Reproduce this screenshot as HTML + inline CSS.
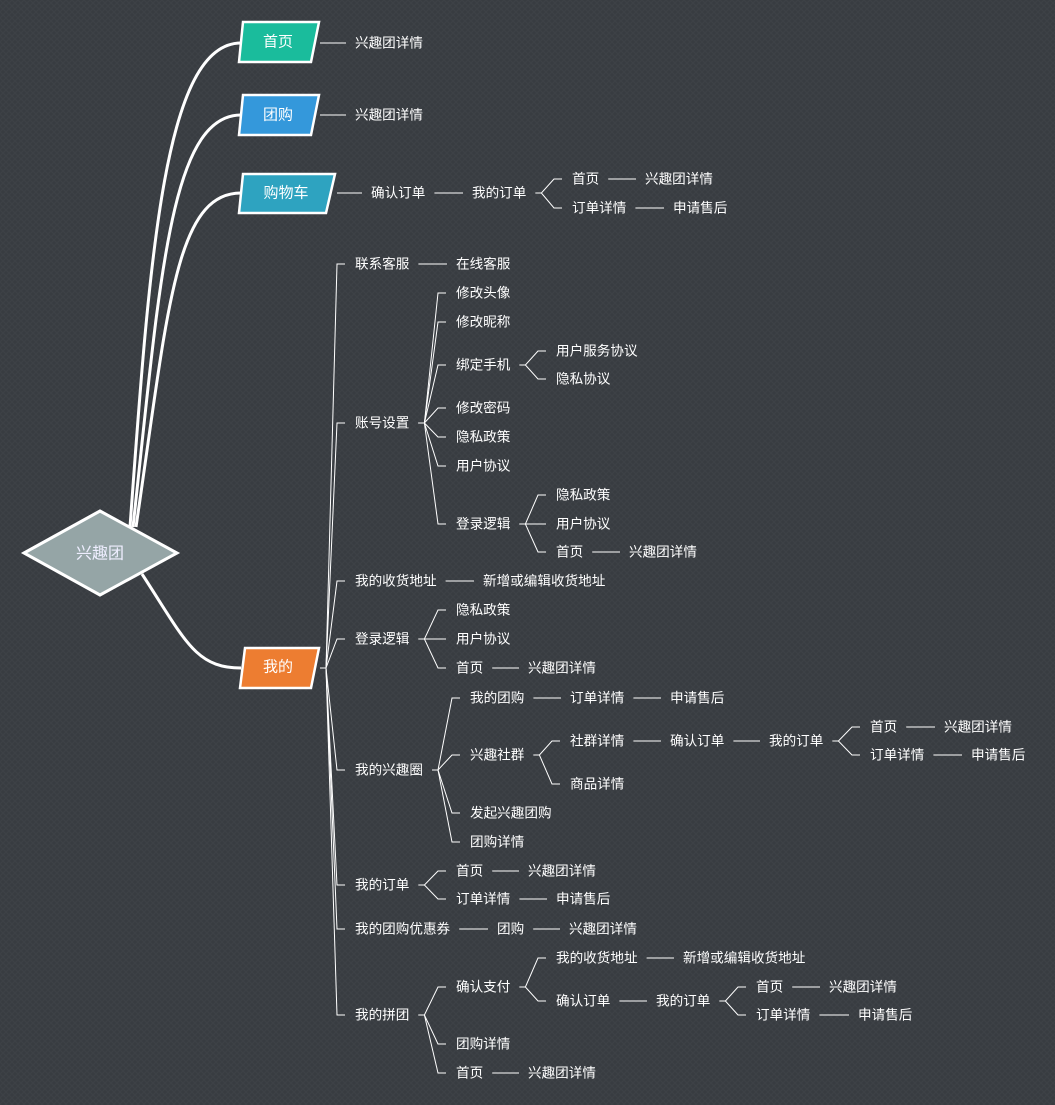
<!DOCTYPE html>
<html><head><meta charset="utf-8"><style>
html,body{margin:0;padding:0;background:#383c41;}
svg{display:block;}
text{font-family:"Liberation Sans","Noto Sans CJK SC",sans-serif;font-size:13.6px;fill:#fff;dominant-baseline:central;}
</style></head><body>
<svg id="s" width="1055" height="1105" viewBox="0 0 1055 1105" xmlns="http://www.w3.org/2000/svg">
<defs><pattern id="p" width="6" height="6" patternUnits="userSpaceOnUse"><rect width="6" height="6" fill="#383c41"/><path d="M0 0L6 6M6 0L0 6" stroke="#3d4146" stroke-width="1"/></pattern></defs>
<rect width="1055" height="1105" fill="url(#p)"/>
<g fill="none" stroke="#fff" stroke-width="3">
<path d="M130 527 C150 250 165 43 241 43"/>
<path d="M133 527 C160 280 170 115 241 115"/>
<path d="M136 527 C168 310 175 193 241 193"/>
<path d="M142 574 C185 640 195 668 241 668"/>
</g>
<polygon points="24,553 100,511 177,553 100,595" fill="#95a5a6" stroke="#fff" stroke-width="3"/>
<text x="100" y="554" text-anchor="middle" style="font-size:16px;fill:#eef">兴趣团</text>
<polygon points="243,22 319,22 311,62 239,62" fill="#1abc9c" stroke="#fff" stroke-width="2.5"/>
<text x="278" y="42" text-anchor="middle" style="font-size:15px">首页</text>
<polygon points="243,95 319,95 311,135 239,135" fill="#3498db" stroke="#fff" stroke-width="2.5"/>
<text x="278" y="115" text-anchor="middle" style="font-size:15px">团购</text>
<polygon points="243,174 335,174 326,213 239,213" fill="#2ea3c0" stroke="#fff" stroke-width="2.5"/>
<text x="286" y="193" text-anchor="middle" style="font-size:15px">购物车</text>
<polygon points="245,648 319,648 311,688 240,688" fill="#ed7d31" stroke="#fff" stroke-width="2.5"/>
<text x="278" y="667" text-anchor="middle" style="font-size:15px">我的</text>
<g id="lines" fill="none" stroke="#fff" stroke-width="1"></g>
<g id="txt"></g>
</svg>
<script>
var W=13.6;
function N(t,x,y,c){return {t:t,x:x,y:y,c:c||[]};}
var roots=[
 {pe:311,y:43,c:[N("兴趣团详情",355,43)]},
 {pe:311,y:115,c:[N("兴趣团详情",355,115)]},
 {pe:328,y:193,c:[N("确认订单",371,193,[N("我的订单",472,193,[N("首页",572,179,[N("兴趣团详情",645,179)]),N("订单详情",572,208,[N("申请售后",673,208)])])])]},
 {pe:311,y:668,c:[
  N("联系客服",355,264,[N("在线客服",456,264)]),
  N("账号设置",355,423,[N("修改头像",456,293),N("修改昵称",456,322),
    N("绑定手机",456,365,[N("用户服务协议",556,351),N("隐私协议",556,379)]),
    N("修改密码",456,408),N("隐私政策",456,437),N("用户协议",456,466),
    N("登录逻辑",456,524,[N("隐私政策",556,495),N("用户协议",556,524),N("首页",556,552,[N("兴趣团详情",629,552)])])]),
  N("我的收货地址",355,581,[N("新增或编辑收货地址",483,581)]),
  N("登录逻辑",355,639,[N("隐私政策",456,610),N("用户协议",456,639),N("首页",456,668,[N("兴趣团详情",528,668)])]),
  N("我的兴趣圈",355,770,[N("我的团购",470,698,[N("订单详情",570,698,[N("申请售后",670,698)])]),
    N("兴趣社群",470,755,[N("社群详情",570,741,[N("确认订单",670,741,[N("我的订单",769,741,[N("首页",870,727,[N("兴趣团详情",944,727)]),N("订单详情",870,755,[N("申请售后",971,755)])])])]),N("商品详情",570,784)]),
    N("发起兴趣团购",470,813),N("团购详情",470,842)]),
  N("我的订单",355,885,[N("首页",456,871,[N("兴趣团详情",528,871)]),N("订单详情",456,899,[N("申请售后",556,899)])]),
  N("我的团购优惠券",355,929,[N("团购",497,929,[N("兴趣团详情",569,929)])]),
  N("我的拼团",355,1015,[N("确认支付",456,987,[N("我的收货地址",556,958,[N("新增或编辑收货地址",683,958)]),N("确认订单",556,1001,[N("我的订单",656,1001,[N("首页",756,987,[N("兴趣团详情",829,987)]),N("订单详情",756,1015,[N("申请售后",858,1015)])])])]),
    N("团购详情",456,1044),N("首页",456,1073,[N("兴趣团详情",528,1073)])])
 ]}
];
var L=document.getElementById("lines"),T=document.getElementById("txt"),NS="http://www.w3.org/2000/svg";
function path(d){var p=document.createElementNS(NS,"path");p.setAttribute("d",d);L.appendChild(p);}
function conn(pe,py,c){
 if(c.length==1&&Math.abs(c[0].y-py)<2){path("M"+(pe+9)+" "+py+"H"+(c[0].x-9));}
 else{c.forEach(function(k){path("M"+(pe+9)+" "+py+"H"+(pe+15)+"L"+(k.x-18)+" "+k.y+"H"+(k.x-10));});}
}
function draw(n){var t=document.createElementNS(NS,"text");t.setAttribute("x",n.x);t.setAttribute("y",n.y);t.textContent=n.t;T.appendChild(t);
 var pe=n.x+n.t.length*W; if(n.c.length){conn(pe,n.y,n.c);n.c.forEach(draw);}}
roots.forEach(function(r){conn(r.pe,r.y,r.c);r.c.forEach(draw);});
</script>
</body></html>
